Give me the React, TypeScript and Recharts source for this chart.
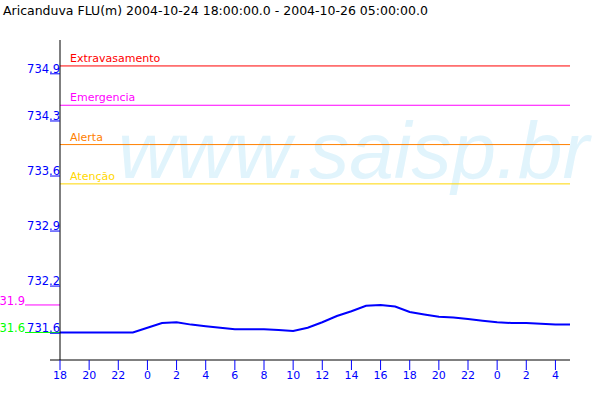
import { Line, LineChart, ReferenceLine, XAxis, YAxis } from "recharts"

const title = "Aricanduva FLU(m) 2004-10-24 18:00:00.0 - 2004-10-26 05:00:00.0"
const startHour = 18

// hours since 2004-10-24 18:00
const hours = [
  0, 1, 2, 3, 4, 5, 6, 7, 8, 9, 10, 11, 12, 13, 14, 15, 16, 17, 18, 19, 20, 21,
  22, 23, 24, 25, 26, 27, 28, 29, 30, 31, 32, 33, 34, 35,
]
const levels = [
  731.61, 731.61, 731.61, 731.61, 731.61, 731.61, 731.67, 731.73, 731.74,
  731.71, 731.69, 731.67, 731.65, 731.65, 731.65, 731.64, 731.63, 731.67,
  731.74, 731.82, 731.88, 731.95, 731.96, 731.94, 731.87, 731.84, 731.81,
  731.8, 731.78, 731.76, 731.74, 731.73, 731.73, 731.72, 731.71, 731.71,
]

const yTicks = [731.6, 732.2, 732.9, 733.6, 734.3, 734.9]
const xTicks = [0, 2, 4, 6, 8, 10, 12, 14, 16, 18, 20, 22, 24, 26, 28, 30, 32, 34]

const thresholdNames = ["Extravasamento", "Emergencia", "Alerta", "Atenção"]
const thresholdValues = [735.0, 734.5, 734.0, 733.5]
const thresholdColors = ["#ff0000", "#ff00ff", "#ff8000", "#ffd700"]

const data = hours.map((h, i) => ({ h, level: levels[i] }))
const minLevel = Math.min(...levels)
const maxLevel = Math.max(...levels)
const trunc = (v: number) => (Math.floor(v * 10 + 1e-6) / 10).toFixed(1)

const font = "'DejaVu Sans', sans-serif"
const blue = "#0000ff"

function YTick({ x, y, payload }: any) {
  return (
    <g>
      <line x1={x - 10} y1={y} x2={x} y2={y} stroke={blue} />
      <text x={x} y={y - 1} textAnchor="end" fill={blue} fontSize={11.5} fontFamily={font}>
        {payload.value.toFixed(1)}
      </text>
    </g>
  )
}

function XTick({ x, y, payload, index }: any) {
  return (
    <g>
      {index === 0 && <line x1={x - 10} y1={y} x2={x} y2={y} stroke="#000" />}
      <line x1={x} y1={y} x2={x} y2={y + 10} stroke={blue} />
      <text x={x} y={y + 19} textAnchor="middle" fill={blue} fontSize={11} fontFamily={font}>
        {(startHour + payload.value) % 24}
      </text>
    </g>
  )
}

// min / max markers drawn to the left of the y axis
function sideMarker(color: string, value: number) {
  return (props: any) => (
    <g>
      <line x1={props.x1 - 35} y1={props.y1} x2={props.x1} y2={props.y1} stroke={color} />
      <text x={props.x1 - 35} y={props.y1} textAnchor="end" fill={color} fontSize={11.5} fontFamily={font}>
        {trunc(value)}
      </text>
    </g>
  )
}

export default function App() {
  return (
    <div style={{ position: "absolute", left: 0, top: 0, width: 600, height: 400, background: "#fff" }}>
      <svg width={600} height={400} style={{ position: "absolute", left: 0, top: 0 }}>
        <text x={3} y={15} fontSize={12.5} fontFamily={font} fill="#000">
          {title}
        </text>
        <text
          x={118}
          y={178}
          fontSize={80}
          fontStyle="italic"
          fontFamily="'Liberation Sans', sans-serif"
          fill="#e1f4fc"
        >
          www.saisp.br
        </text>
      </svg>
      <div style={{ position: "absolute", left: 0, top: 0 }}>
        <LineChart width={600} height={400} data={data} margin={{ top: 40, right: 30, bottom: 10, left: 0 }}>
          <XAxis
            dataKey="h"
            type="number"
            domain={[0, 35]}
            ticks={xTicks}
            interval={0}
            height={30}
            tickSize={0}
            tickMargin={0}
            tickLine={false}
            axisLine={{ stroke: "#000" }}
            tick={<XTick />}
          />
          <YAxis
            type="number"
            domain={[731.26, 735.33]}
            ticks={yTicks}
            interval={0}
            width={60}
            tickSize={0}
            tickMargin={0}
            tickLine={false}
            axisLine={{ stroke: "#000" }}
            tick={<YTick />}
          />
          {thresholdValues.map((v, i) => (
            <ReferenceLine
              key={thresholdNames[i]}
              y={v}
              stroke={thresholdColors[i]}
              label={(p: any) => (
                <text
                  x={p.viewBox.x + 10}
                  y={p.viewBox.y - 4}
                  fill={thresholdColors[i]}
                  fontSize={11}
                  fontFamily={font}
                >
                  {thresholdNames[i]}
                </text>
              )}
            />
          ))}
          <ReferenceLine y={maxLevel} shape={sideMarker("#ff00ff", maxLevel)} />
          <ReferenceLine y={minLevel} shape={sideMarker("#00ff00", minLevel)} />
          <Line
            dataKey="level"
            type="linear"
            stroke={blue}
            strokeWidth={2}
            dot={false}
            isAnimationActive={false}
          />
        </LineChart>
      </div>
    </div>
  )
}
